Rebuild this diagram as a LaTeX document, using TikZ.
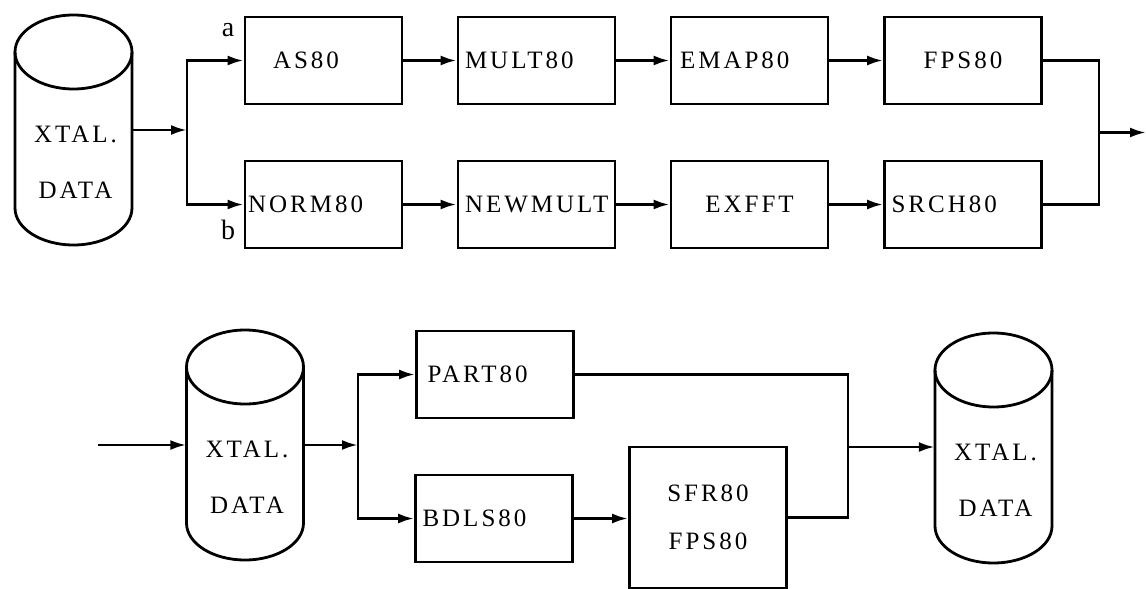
\documentclass[tikz,border=0pt]{standalone}
\usepackage{fontspec}
\usetikzlibrary{arrows.meta}
\newfontfamily\boxfont[LetterSpace=12]{Liberation Serif}
\newfontfamily\plainfont{Liberation Serif}
\newcommand\lbl{\boxfont\fontsize{25}{29}\selectfont}
\newcommand\ablbl{\plainfont\fontsize{28}{32}\selectfont}
\newcommand\drum[3]{%
  \node[minimum width=117pt, minimum height=230pt, inner sep=0pt] (#1) at (#2,#3) {};
  \draw[conn] (#2,#3-78) ellipse [x radius=58.5pt, y radius=37pt];
  \draw[conn] (#2-58.5,#3-78) -- (#2-58.5,#3+78) arc[start angle=180, end angle=360, x radius=58.5pt, y radius=37pt] -- (#2+58.5,#3-78);
  \node[font=\lbl] at (#2+2,#3+4) {XTAL.};
  \node[font=\lbl] at (#2+2,#3+60) {DATA};
}
\begin{document}
\begin{tikzpicture}[x=1pt,y=-1pt,
  conn/.style={line width=2.8pt},
  arr/.style={conn, -{Latex[length=16pt,width=10pt]}},
  box/.style={draw, line width=2.8pt, minimum width=157pt, minimum height=87pt, inner sep=0pt, font=\lbl},
  lp3/.style={align=left, inner xsep=3pt, text width=151pt},
  lp7/.style={align=left, inner xsep=7pt, text width=143pt},
  lp9/.style={align=left, inner xsep=9pt, text width=139pt},
  lp11/.style={align=left, inner xsep=11pt, text width=135pt},
  lp28/.style={align=left, inner xsep=28pt, text width=101pt}]
\useasboundingbox (0,0) rectangle (1146,589);

% top section
\drum{c1}{73.5}{130}
\node[box, lp28] (as) at (323.5,60.5) {AS80};
\node[box, lp7] (mult) at (536.5,60.5) {MULT80};
\node[box, lp9] (emap) at (749.5,60.5) {EMAP80};
\node[box] (fps) at (963,60.5) {FPS80};
\node[box, lp3] (norm) at (323.5,204.5) {NORM80};
\node[box, lp7] (newmult) at (536.5,204.5) {NEWMULT};
\node[box] (exfft) at (749.5,204.5) {EXFFT};
\node[box, lp7] (srch) at (963,204.5) {SRCH80};
\node[font=\ablbl] (la) at (228,30) {a};
\node[font=\ablbl] (lb) at (228,230) {b};

\coordinate (j1) at (187,130);
\draw[arr] (c1.east) -- (j1);
\draw[arr] (j1) |- (as.west);
\draw[arr] (j1) |- (norm.west);
\draw[arr] (as) -- (mult);
\draw[arr] (mult) -- (emap);
\draw[arr] (emap) -- (fps);
\draw[arr] (norm) -- (newmult);
\draw[arr] (newmult) -- (exfft);
\draw[arr] (exfft) -- (srch);
\coordinate (j2) at (1099,132.5);
\coordinate (out) at (1146,132.5);
\draw[conn] (fps.east) -| (j2);
\draw[conn] (srch.east) -| (j2);
\draw[arr] (j2) -- (out);

% bottom section
\drum{c2}{245}{445}
\drum{c3}{993.5}{448}
\node[box, lp11] (part) at (495,374.5) {PART80};
\node[box, lp7] (bdls) at (494,518.5) {BDLS80};
\node[box, minimum height=141pt, align=center] (sfr) at (708,517.5) {SFR80\\[19pt]FPS80};

\coordinate (inp) at (98,445);
\draw[arr] (inp) -- (c2.west);
\coordinate (j3) at (358,445);
\draw[arr] (c2.east) -- (j3);
\draw[arr] (j3) |- (part.west);
\draw[arr] (j3) |- (bdls.west);
\draw[arr] (bdls.east) -- (sfr.west |- bdls.east);
\coordinate (j4) at (848,447);
\draw[conn] (part.east) -| (j4);
\draw[conn] (sfr.east) -| (j4);
\draw[arr] (j4) -- (c3.west |- j4);
\end{tikzpicture}
\end{document}
